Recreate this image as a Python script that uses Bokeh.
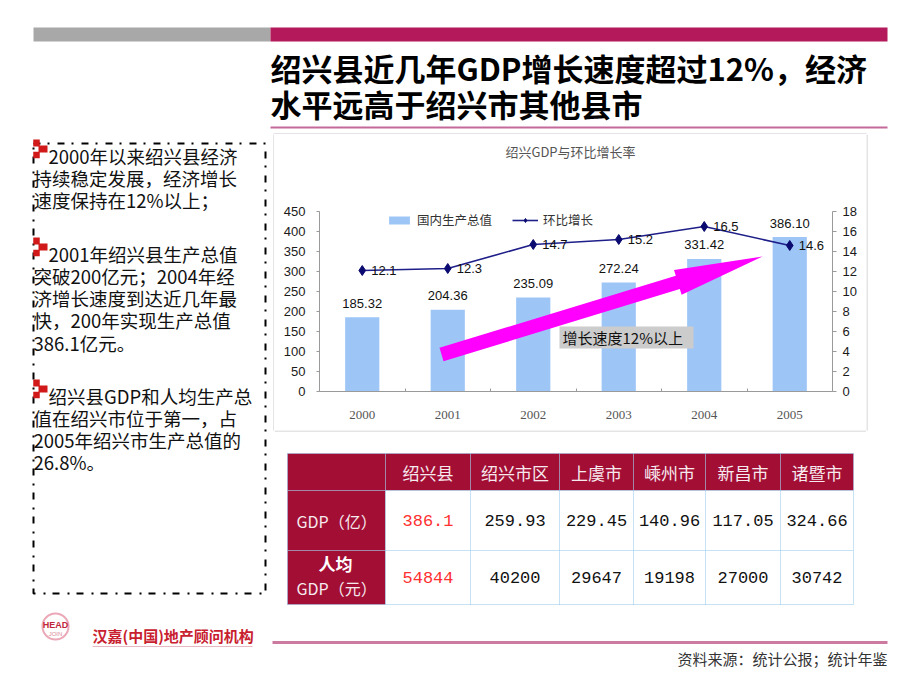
from bokeh.plotting import figure
from bokeh.models import (Range1d, LinearAxis, FixedTicker, Legend, LegendItem,
                          Label, PolyAnnotation, BoxAnnotation)
from bokeh.layouts import row, column
from bokeh.embed import file_html
from bokeh.resources import INLINE
from bokeh.core.properties import value

# ---------------- data ----------------
years = ["2000", "2001", "2002", "2003", "2004", "2005"]
gdp = [185.32, 204.36, 235.09, 272.24, 331.42, 386.10]
growth = [12.1, 12.3, 14.7, 15.2, 16.5, 14.6]
gdp_ticks = [0, 50, 100, 150, 200, 250, 300, 350, 400, 450]
rate_ticks = [0, 2, 4, 6, 8, 10, 12, 14, 16, 18]
series_names = ["国内生产总值", "环比增长"]
chart_title = "绍兴GDP与环比增长率"
note_text = "增长速度12%以上"

slide_title = ["绍兴县近几年GDP增长速度超过12%，经济", "水平远高于绍兴市其他县市"]
paragraphs = [
    ["2000年以来绍兴县经济", "持续稳定发展，经济增长", "速度保持在12%以上；"],
    ["2001年绍兴县生产总值", "突破200亿元；2004年经", "济增长速度到达近几年最",
     "快，200年实现生产总值", "386.1亿元。"],
    ["绍兴县GDP和人均生产总", "值在绍兴市位于第一，占", "2005年绍兴市生产总值的", "26.8%。"],
]

table_cols = ["绍兴县", "绍兴市区", "上虞市", "嵊州市", "新昌市", "诸暨市"]
table_gdp = ["386.1", "259.93", "229.45", "140.96", "117.05", "324.66"]
table_pc = ["54844", "40200", "29647", "19198", "27000", "30742"]
row_label_gdp = "GDP（亿）"
row_label_pc = ["人均", "GDP（元）"]

company = "汉嘉(中国)地产顾问机构"
source_text = "资料来源：统计公报；统计年鉴"

# ---------------- style / page layout ----------------
CJK = "Noto Sans CJK SC"
MAGENTA = "#B3195B"
DARKRED = "#A30E35"
BOXGRAY = "#C9C9C9"
BOX_DASH = "7 7 2 8"
AXIS_GRAY = "#9A9A9A"
PAGE_W, PAGE_H = 920, 690
MID_T, CHART_B, MID_B = 134, 430, 605
CH_L, CH_R = 274, 866


def deco(x0, y0, w, h):
    """Decoration panel whose data coordinates are page pixels."""
    p = figure(width=w, height=h, x_range=Range1d(x0, x0 + w), y_range=Range1d(y0 + h, y0),
               x_axis_type=None, y_axis_type=None, toolbar_location=None,
               output_backend="svg", min_border=0, outline_line_color=None)
    p.background_fill_color = "white"
    p.border_fill_color = "white"
    return p


def txt(p, x, y, s, size, color="#111111", font=CJK, align="left",
        baseline="middle", style="normal"):
    p.text(x=[x], y=[y], text=[s], text_font=value(font), text_font_size=value(f"{size}px"),
           text_color=color, text_align=align, text_baseline=baseline,
           text_font_style=value(style))


# ---------------- header ----------------
header = deco(0, 0, PAGE_W, MID_T)
header.quad(left=[33], right=[270], top=[27], bottom=[41], fill_color="#A8A8A8", line_color=None)
header.quad(left=[270], right=[887], top=[27], bottom=[41], fill_color=MAGENTA, line_color=None)
txt(header, 270, 67, slide_title[0], 31, "#000000", style="bold")
txt(header, 270, 103, slide_title[1], 31, "#000000", style="bold")
header.segment(x0=[270], y0=[127], x1=[887], y1=[127], line_color="#C5689A", line_width=2)
header.segment(x0=[273], y0=[133.5], x1=[CH_R], y1=[133.5], line_color=BOXGRAY, line_width=1)

# ---------------- left text column ----------------
left = deco(0, MID_T, CH_L, MID_B - MID_T)
left.quad(left=[33], right=[265], top=[143], bottom=[593], fill_color=None,
          line_color="#000000", line_width=2, line_dash=BOX_DASH)
left.segment(x0=[273.5], y0=[MID_T], x1=[273.5], y1=[CHART_B], line_color=BOXGRAY, line_width=1)
para_start = [155, 253, 395]
line_h = 22.3
for k, para in enumerate(paragraphs):
    fy = para_start[k]
    left.rect(x=[36, 42.5, 36], y=[fy - 12.5, fy - 6.5, fy - 0.5], width=[6.5, 9, 6.5],
              height=[7, 7, 6.5], fill_color="#D11919", line_color=None)
    for j, s in enumerate(para):
        txt(left, 48 if j == 0 else 33, fy + j * line_h, s, 18.5, "#111111")

# ---------------- chart (frame fills the whole panel; axes fixed inside) ----------------
FR_L, FR_R, FR_T, FR_B = 319, 832, 211, 391   # value area on the page
GDP_MAX, RATE_MAX = gdp_ticks[-1], rate_ticks[-1]


def dx(sx):
    return (sx - FR_L) / (FR_R - FR_L) * len(years) - 0.5


def dy(sy):
    return (FR_B - sy) / (FR_B - FR_T) * GDP_MAX


chart = figure(width=CH_R - CH_L, height=CHART_B - MID_T,
               x_range=Range1d(dx(CH_L), dx(CH_R)), y_range=Range1d(dy(CHART_B), dy(MID_T)),
               x_axis_type=None, y_axis_type=None, toolbar_location=None,
               output_backend="svg", min_border=0, outline_line_color=None)
chart.background_fill_color = "white"
chart.border_fill_color = "white"
k_rate = RATE_MAX / GDP_MAX
chart.extra_y_ranges = {"rate": Range1d(dy(CHART_B) * k_rate, dy(MID_T) * k_rate)}

xs = list(range(len(years)))
x_lo, x_hi = -0.5, len(years) - 0.5
xa = LinearAxis(ticker=FixedTicker(ticks=xs, minor_ticks=[i - 0.5 for i in range(len(years) + 1)]),
                major_label_overrides={i: y for i, y in enumerate(years)},
                fixed_location=0, bounds=(x_lo, x_hi))
xa.axis_line_color = AXIS_GRAY
xa.major_tick_line_color = None
xa.minor_tick_line_color = AXIS_GRAY
xa.minor_tick_in = 3
xa.minor_tick_out = 0
xa.major_label_standoff = 13
xa.major_label_text_font = "Liberation Serif"
xa.major_label_text_font_size = "13px"
xa.major_label_text_color = "#555555"
chart.add_layout(xa, "below")

ya = LinearAxis(ticker=FixedTicker(ticks=gdp_ticks), bounds=(0, GDP_MAX), fixed_location=x_lo)
yr = LinearAxis(y_range_name="rate", ticker=FixedTicker(ticks=rate_ticks), bounds=(0, RATE_MAX),
                fixed_location=x_hi)
for ax, out, so in ((ya, 3, 11), (yr, 4, 6)):
    ax.axis_line_color = AXIS_GRAY
    ax.major_tick_line_color = AXIS_GRAY
    ax.major_tick_in = 0
    ax.major_tick_out = out
    ax.minor_tick_line_color = None
    ax.major_label_standoff = so
    ax.major_label_text_font = "Liberation Sans"
    ax.major_label_text_font_size = "13px"
    ax.major_label_text_color = "#1A1A1A"
chart.add_layout(ya, "left")
chart.add_layout(yr, "right")

bars = chart.vbar(x=xs, top=gdp, width=0.4, fill_color="#9DC6F7", line_color=None)
ln = chart.line(x=xs, y=growth, y_range_name="rate", line_color="#1F1F8A", line_width=1.6)
mk = chart.scatter(x=xs, y=growth, y_range_name="rate", marker="diamond", size=10,
                   fill_color="#0A0A70", line_color="#0A0A70")

chart.text(x=xs, y=gdp, text=[f"{v:.2f}" for v in gdp], y_offset=-14,
           text_align="center", text_baseline="middle", text_font=value("Liberation Sans"),
           text_font_size=value("13px"), text_color="#111111")
chart.text(x=xs, y=growth, y_range_name="rate", text=[f"{v:.1f}" for v in growth],
           x_offset=9, text_align="left", text_baseline="middle",
           text_font=value("Liberation Sans"), text_font_size=value("13px"),
           text_color="#111111")

arrow_px = [(439, 347.3), (675.3, 275.2), (673.5, 269.5), (762, 256),
            (681.1, 294.3), (679.3, 288.6), (443, 360.7)]
chart.add_layout(PolyAnnotation(xs=[dx(a) for a, b in arrow_px], ys=[dy(b) for a, b in arrow_px],
                                fill_color="#FF00FF", fill_alpha=1.0, line_color=None))
chart.add_layout(BoxAnnotation(left=dx(559), right=dx(693), top=dy(326), bottom=dy(348),
                               fill_color="#CCCCCC", fill_alpha=1.0, line_color=None))
chart.add_layout(Label(x=dx(562), y=dy(337), text=note_text, text_align="left",
                       text_baseline="middle", text_font=CJK, text_font_size="15px",
                       text_color="#111111"))
chart.add_layout(Label(x=dx(570), y=dy(151), text=chart_title, text_align="center",
                       text_baseline="middle", text_font=CJK, text_font_size="13px",
                       text_color="#555555"))

legend = Legend(items=[LegendItem(label=series_names[0], renderers=[bars]),
                       LegendItem(label=series_names[1], renderers=[ln, mk])],
                location=(386 - CH_L, CHART_B - 229), orientation="horizontal", padding=0,
                margin=0, spacing=20, glyph_width=26, glyph_height=10, label_height=14,
                label_standoff=5, label_text_font=CJK, label_text_font_size="12.5px",
                label_text_color="#333333", background_fill_alpha=0,
                border_line_color=None)
chart.add_layout(legend)

# ---------------- table panel (below chart) ----------------
low = deco(CH_L, CHART_B, CH_R - CH_L, MID_B - CHART_B)
low.segment(x0=[CH_L], y0=[CHART_B + 0.5], x1=[CH_R], y1=[CHART_B + 0.5],
            line_color=BOXGRAY, line_width=1)
col_edges = [287, 385, 470, 559, 633, 705, 780, 853]
row_edges = [453, 490, 550, 604]
L, R, T, B, C = [], [], [], [], []
for r in range(3):
    for c in range(7):
        L.append(col_edges[c]); R.append(col_edges[c + 1])
        T.append(row_edges[r]); B.append(row_edges[r + 1])
        C.append(DARKRED if (r == 0 or c == 0) else "#FFFFFF")
low.quad(left=L, right=R, top=T, bottom=B, fill_color=C, line_color=None)
low.segment(x0=col_edges, y0=[row_edges[0]] * len(col_edges), x1=col_edges,
            y1=[row_edges[-1]] * len(col_edges), line_color="#8EC3EA", line_width=1,
            line_dash="1 1")
low.segment(x0=[col_edges[0]] * len(row_edges), y0=row_edges,
            x1=[col_edges[-1]] * len(row_edges), y1=row_edges, line_color="#8EC3EA",
            line_width=1, line_dash="1 1")
centers = [(col_edges[i + 1] + col_edges[i + 2]) / 2 for i in range(len(table_cols))]
ry = [(row_edges[i] + row_edges[i + 1]) / 2 for i in range(3)]
low.text(x=centers, y=[ry[0]] * len(centers), text=table_cols, text_align="center",
         text_baseline="middle", text_font=value(CJK), text_font_size=value("17px"),
         text_color="#F6EAEE")
vals_color = ["#FF3030"] + ["#111111"] * (len(table_cols) - 1)
low.text(x=centers, y=[ry[1]] * len(centers), text=table_gdp, text_align="center",
         text_baseline="middle", text_font=value("Liberation Mono"),
         text_font_size=value("17px"), text_color=vals_color)
low.text(x=centers, y=[ry[2]] * len(centers), text=table_pc, text_align="center",
         text_baseline="middle", text_font=value("Liberation Mono"),
         text_font_size=value("17px"), text_color=vals_color)
txt(low, 296, ry[1], row_label_gdp, 16, "#F6EAEE")
txt(low, 335, 563, row_label_pc[0], 17, "#FFFFFF", align="center", style="bold")
txt(low, 296, 587, row_label_pc[1], 16, "#F6EAEE")

# ---------------- right spacer ----------------
right = deco(CH_R, MID_T, PAGE_W - CH_R, MID_B - MID_T)
right.segment(x0=[CH_R + 0.5], y0=[MID_T], x1=[CH_R + 0.5], y1=[CHART_B],
              line_color=BOXGRAY, line_width=1)

# ---------------- footer ----------------
footer = deco(0, MID_B, PAGE_W, PAGE_H - MID_B)
footer.circle(x=[55], y=[626], radius=13, fill_color=None, line_color="#EBA9B8", line_width=2)
txt(footer, 55, 624, "HEAD", 9, "#C0283C", font="Liberation Sans", align="center", style="bold")
txt(footer, 55, 633, "JOIN", 6, "#D98A9A", font="Liberation Sans", align="center")
txt(footer, 92, 635, company, 15, "#C8202E", style="bold")
footer.segment(x0=[92], y0=[646], x1=[252], y1=[646], line_color="#E6B8C4", line_width=1)
footer.segment(x0=[272], y0=[642], x1=[887], y1=[642], line_color="#CC7AA0", line_width=3)
txt(footer, 887, 658, source_text, 15, "#333333", align="right")

layout = column(header,
                row(left, column(chart, low, spacing=0), right, spacing=0),
                footer, spacing=0)

open("out.html", "w").write(file_html(layout, INLINE))
